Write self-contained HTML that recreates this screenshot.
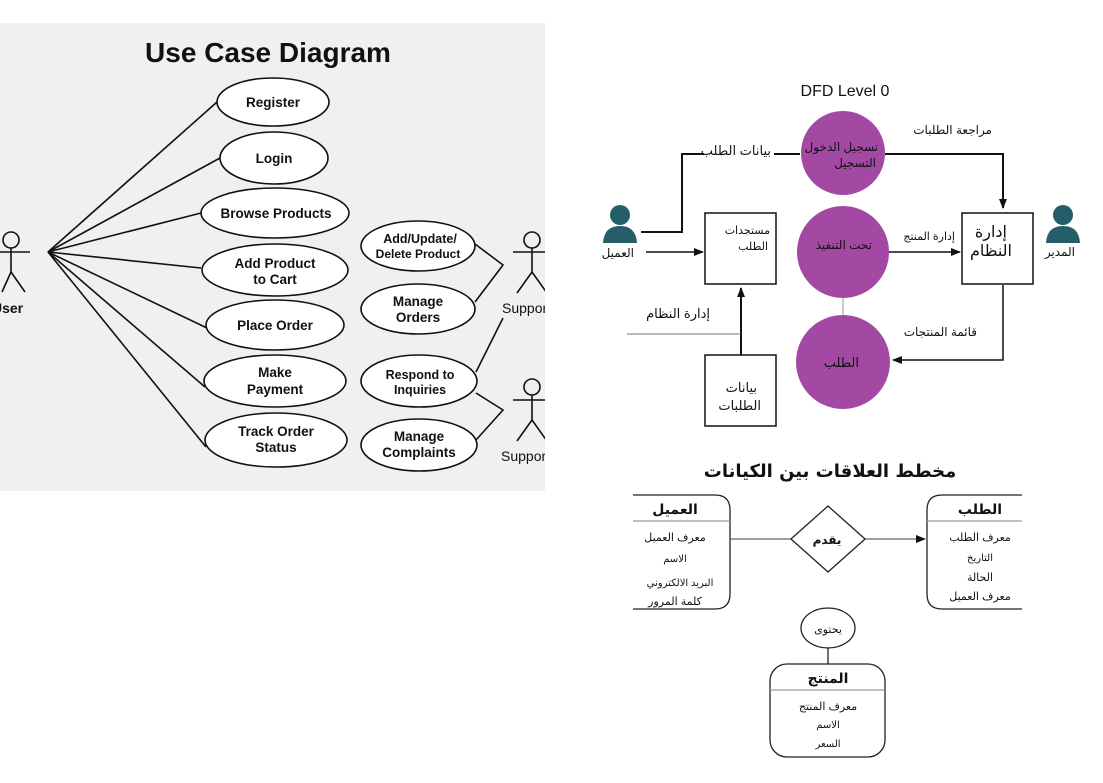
<!DOCTYPE html>
<html><head><meta charset="utf-8"><style>
html,body{margin:0;padding:0;background:#fff;}
svg{display:block;}
text{font-family:"Liberation Sans","DejaVu Sans",sans-serif;}
.ar{font-family:"DejaVu Sans","Noto Sans CJK SC",sans-serif;}
</style></head><body>
<svg width="1103" height="783" viewBox="0 0 1103 783" xmlns="http://www.w3.org/2000/svg">
<defs>
<marker id="ah" markerWidth="10" markerHeight="10" refX="9" refY="5" orient="auto" markerUnits="userSpaceOnUse"><path d="M0,1 L10,5 L0,9 z" fill="#111"/></marker>
<clipPath id="lp"><rect x="0" y="23" width="545" height="468"/></clipPath>
</defs>
<rect x="0" y="23" width="545" height="468" fill="#f0f0f0"/>
<g clip-path="url(#lp)" stroke="#111" stroke-width="1.6" fill="none">
<text x="268" y="62" text-anchor="middle" font-size="28" font-weight="bold" fill="#111" stroke="none">Use Case Diagram</text>
<circle cx="11" cy="240" r="8"/>
<line x1="11" y1="248" x2="11" y2="272"/><line x1="-2" y1="252" x2="30" y2="252"/>
<line x1="11" y1="272" x2="2" y2="292"/><line x1="11" y1="272" x2="25" y2="292"/>
<text x="-8" y="313" font-size="14" font-weight="bold" fill="#111" stroke="none">User</text>
<line x1="48" y1="252" x2="217" y2="102"/>
<line x1="48" y1="252" x2="220" y2="158"/>
<line x1="48" y1="252" x2="201" y2="213"/>
<line x1="48" y1="252" x2="201" y2="268"/>
<line x1="48" y1="252" x2="207" y2="328"/>
<line x1="48" y1="252" x2="205" y2="387"/>
<line x1="48" y1="252" x2="206" y2="447"/>
<g fill="#fff">
<ellipse cx="273" cy="102" rx="56" ry="24"/>
<ellipse cx="274" cy="158" rx="54" ry="26"/>
<ellipse cx="275" cy="213" rx="74" ry="25"/>
<ellipse cx="275" cy="270" rx="73" ry="26"/>
<ellipse cx="275" cy="325" rx="69" ry="25"/>
<ellipse cx="275" cy="381" rx="71" ry="26"/>
<ellipse cx="276" cy="440" rx="71" ry="27"/>
<ellipse cx="418" cy="246" rx="57" ry="25"/>
<ellipse cx="418" cy="309" rx="57" ry="25"/>
<ellipse cx="419" cy="381" rx="58" ry="26"/>
<ellipse cx="419" cy="445" rx="58" ry="26"/>
</g>
<polyline points="475,244 503,265 475,302"/>
<polyline points="476,372 503,318"/>
<polyline points="476,393 503,410 476,440"/>
<circle cx="532" cy="240" r="8"/>
<line x1="532" y1="248" x2="532" y2="272"/><line x1="513" y1="252" x2="548" y2="252"/>
<line x1="532" y1="272" x2="517" y2="293"/><line x1="532" y1="272" x2="547" y2="293"/>
<text x="502" y="313" font-size="14" fill="#111" stroke="none">Support</text>
<circle cx="532" cy="387" r="8"/>
<line x1="532" y1="395" x2="532" y2="420"/><line x1="513" y1="400" x2="548" y2="400"/>
<line x1="532" y1="420" x2="517" y2="441"/><line x1="532" y1="420" x2="547" y2="441"/>
<text x="501" y="461" font-size="14" fill="#111" stroke="none">Support</text>
<g stroke="none" fill="#111" font-size="13.5" font-weight="bold" text-anchor="middle">
<text x="273" y="107">Register</text>
<text x="274" y="163">Login</text>
<text x="276" y="218">Browse Products</text>
<text x="275" y="268">Add Product</text><text x="275" y="284">to Cart</text>
<text x="275" y="330">Place Order</text>
<text x="275" y="377">Make</text><text x="275" y="394">Payment</text>
<text x="276" y="436">Track Order</text><text x="276" y="452">Status</text>
<text x="420" y="243" font-size="12.5">Add/Update/</text><text x="418" y="258" font-size="12">Delete Product</text>
<text x="418" y="306">Manage</text><text x="418" y="322">Orders</text>
<text x="420" y="379" font-size="12.5">Respond to</text><text x="420" y="394" font-size="12.5">Inquiries</text>
<text x="419" y="441">Manage</text><text x="419" y="457">Complaints</text>
</g>
</g>

<text x="845" y="96" text-anchor="middle" font-size="16" fill="#111">DFD Level 0</text>
<g stroke="#111" stroke-width="2" fill="none">
<polyline points="641,232 682,232 682,154 800,154"/>
<polyline points="885,154 1003,154 1003,208" marker-end="url(#ah)"/>
<line x1="646" y1="252" x2="703" y2="252" stroke-width="1.5" marker-end="url(#ah)"/>
<line x1="889" y1="252" x2="960" y2="252" stroke-width="1.5" marker-end="url(#ah)"/>
<polyline points="1003,285 1003,360 893,360" stroke-width="1.5" marker-end="url(#ah)"/>
<line x1="741" y1="355" x2="741" y2="288" marker-end="url(#ah)"/>
<line x1="627" y1="334" x2="741" y2="334" stroke="#777" stroke-width="1"/>
<line x1="843" y1="295" x2="843" y2="320" stroke="#999" stroke-width="1"/>
<rect x="705" y="213" width="71" height="71" stroke-width="1.5" fill="#fff"/>
<rect x="962" y="213" width="71" height="71" stroke-width="1.5" fill="#fff"/>
<rect x="705" y="355" width="71" height="71" stroke-width="1.5" fill="#fff"/>
</g>
<rect x="704" y="142" width="70" height="16" fill="#fff"/>
<g fill="#a349a4">
<circle cx="843" cy="153" r="42"/>
<circle cx="843" cy="252" r="46"/>
<circle cx="843" cy="362" r="47"/>
</g>
<g fill="#255e68">
<circle cx="620" cy="215" r="10"/><path d="M603,243 Q604,226 620,226 Q636,226 637,243 z"/>
<circle cx="1063" cy="215" r="10"/><path d="M1046,243 Q1047,226 1063,226 Q1079,226 1080,243 z"/>
</g>
<g class="ar" fill="#111" font-size="12" direction="rtl">
<text x="634" y="257" text-anchor="start">العميل</text>
<text x="1075" y="256" text-anchor="start">المدير</text>
<text x="771" y="155" text-anchor="start" font-size="13">بيانات الطلب</text>
<text x="878" y="151" text-anchor="start">تسجيل الدخول</text>
<text x="876" y="167" text-anchor="start">التسجيل</text>
<text x="992" y="134" text-anchor="start">مراجعة الطلبات</text>
<text x="770" y="234" text-anchor="start" font-size="11">مستجدات</text>
<text x="768" y="250" text-anchor="start" font-size="11">الطلب</text>
<text x="872" y="249" text-anchor="start">تحت التنفيذ</text>
<text x="955" y="240" text-anchor="start" font-size="11">إدارة المنتج</text>
<text x="1007" y="237" text-anchor="start" font-size="16">إدارة</text>
<text x="1012" y="256" text-anchor="start" font-size="16">النظام</text>
<text x="977" y="336" text-anchor="start">قائمة المنتجات</text>
<text x="710" y="318" text-anchor="start" font-size="13">إدارة النظام</text>
<text x="859" y="367" text-anchor="start" font-size="13">الطلب</text>
<text x="757" y="392" text-anchor="start" font-size="13">بيانات</text>
<text x="761" y="410" text-anchor="start" font-size="13">الطلبات</text>
</g>

<text class="ar" x="830" y="477" text-anchor="middle" font-size="18" font-weight="bold" fill="#111">مخطط  العلاقات بين الكيانات</text>
<g stroke="#222" stroke-width="1.3" fill="none">
<path d="M633,495 H715 Q730,495 730,510 V594 Q730,609 715,609 H633"/>
<line x1="633" y1="521" x2="730" y2="521" stroke="#999"/>
<path d="M1022,495 H942 Q927,495 927,510 V594 Q927,609 942,609 H1022"/>
<line x1="927" y1="521" x2="1022" y2="521" stroke="#999"/>
<line x1="730" y1="539" x2="791" y2="539" stroke="#666"/>
<line x1="865" y1="539" x2="925" y2="539" stroke="#666" marker-end="url(#ah)"/>
<polygon points="828,506 865,539 828,572 791,539"/>
<ellipse cx="828" cy="628" rx="27" ry="20"/>
<line x1="828" y1="648" x2="828" y2="664"/>
<rect x="770" y="664" width="115" height="93" rx="17"/>
<line x1="770" y1="690" x2="885" y2="690" stroke="#999"/>
</g>
<g class="ar" fill="#111" text-anchor="middle" font-size="11">
<text x="675" y="514" font-size="14" font-weight="bold">العميل</text>
<text x="675" y="541">معرف العميل</text>
<text x="675" y="562" font-size="10">الاسم</text>
<text x="680" y="586" font-size="10">البريد الالكتروني</text>
<text x="675" y="605">كلمة المرور</text>
<text x="980" y="514" font-size="14" font-weight="bold">الطلب</text>
<text x="980" y="541">معرف الطلب</text>
<text x="980" y="561" font-size="10">التاريخ</text>
<text x="980" y="581">الحالة</text>
<text x="980" y="600">معرف العميل</text>
<text x="827" y="544" font-size="12" font-weight="bold">يقدم</text>
<text x="828" y="633">يحتوى</text>
<text x="828" y="683" font-size="14" font-weight="bold">المنتج</text>
<text x="828" y="710">معرف المنتج</text>
<text x="828" y="728" font-size="10">الاسم</text>
<text x="828" y="747" font-size="10">السعر</text>
</g>
</svg>
</body></html>
